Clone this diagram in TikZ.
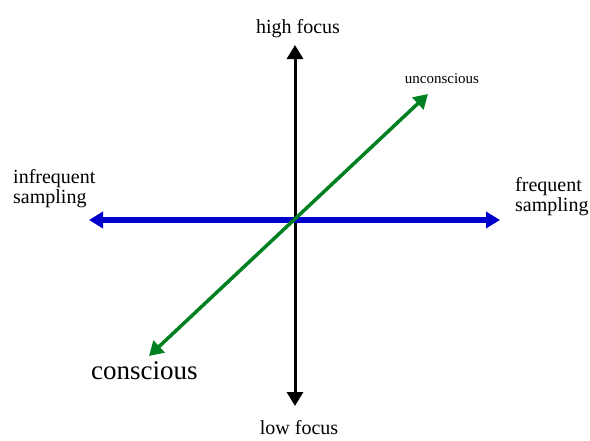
\documentclass[tikz,border=0pt]{standalone}
\usepackage{fontspec}
\setmainfont{Liberation Serif}
\usetikzlibrary{arrows.meta}
\definecolor{axisblue}{RGB}{0,0,204}
\definecolor{axisgreen}{RGB}{0,128,32}

\begin{document}
\begin{tikzpicture}[x=1pt, y=-1pt,
        lbl/.style={inner sep=0pt, font=\fontsize{20}{20}\selectfont},
        axis/.style={{Triangle[length=14pt,width=16pt]}-{Triangle[length=14pt,width=16pt]}}]
    \useasboundingbox (0,0) rectangle (590,440);
    % end points of the three axes
    \coordinate (top)   at (295,45);
    \coordinate (bot)   at (295,406);
    \coordinate (left)  at (89,220);
    \coordinate (right) at (500,220);
    \coordinate (ucon)  at (428,94);
    \coordinate (con)   at (149,356);

    \node[lbl, anchor=base] (high) at (298,33) {high focus};
    \node[lbl, anchor=base] (low) at (299,434) {low focus};
    \node[lbl, anchor=west, align=left] (infreq) at (13,189) {infrequent\\sampling};
    \node[lbl, anchor=west, align=left] (freq) at (515,197) {frequent\\sampling};
    \node[lbl, anchor=base, font=\fontsize{15}{15}\selectfont] (uncon) at (442,83) {unconscious};
    \node[lbl, anchor=base west, font=\fontsize{27}{27}\selectfont] (consc) at (91,379) {conscious};

    \draw[axis, line width=3pt, black] (top) -- (bot);
    \draw[axis, line width=5.5pt, axisblue] (left) -- (right);
    \draw[axis, line width=3.5pt, axisgreen] (con) -- (ucon);
\end{tikzpicture}
\end{document}
